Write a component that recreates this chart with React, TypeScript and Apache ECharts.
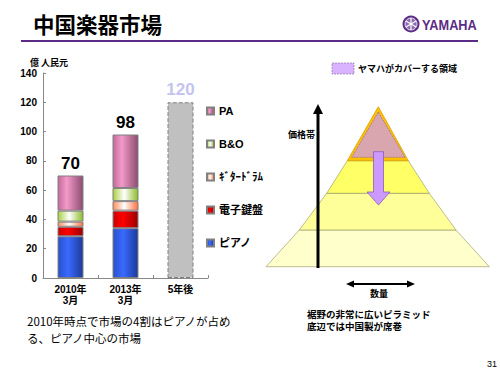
import React, { useEffect, useRef } from "react";
import * as echarts from "echarts";

const categories = ["2010年\n3月", "2013年\n3月", "5年後"];
const legendNames = ["PA", "B&O", "ｷﾞﾀｰﾄﾞﾗﾑ", "電子鍵盤", "ピアノ"];
const piano = [28.5, 34, "-"];
const keyboard = [6.5, 12, "-"];
const guitar = [3.5, 6.5, "-"];
const bo = [7.5, 9, "-"];
const pa = [24, 36.5, "-"];
const future = ["-", "-", 120];
const totals = [70, 98, 120];

const JP = '"Liberation Sans", "Noto Sans CJK JP", sans-serif';
const PURPLE = "#5b2c86";

function grad(edgeL: string, mid: string, edgeR: string, pos = 0.4) {
  return new echarts.graphic.LinearGradient(0, 0, 1, 0, [
    { offset: 0, color: edgeL },
    { offset: pos, color: mid },
    { offset: 1, color: edgeR },
  ]);
}

function txt(text: string, x: number, y: number, font: string, fill = "#000", align = "left") {
  return {
    type: "text",
    style: { text, x, y, font, fill, textAlign: align, textVerticalAlign: "middle", align, verticalAlign: "middle" },
  };
}

export default function App() {
  const ref = useRef<HTMLDivElement>(null);
  useEffect(() => {
    const chart = echarts.init(ref.current!, null, { renderer: "svg" });
    const border = { borderColor: "#808080", borderWidth: 1 };
    const mk = (name: string, data: any[], color: any, extra: any = {}) => ({
      name,
      type: "bar",
      stack: "m",
      barWidth: 26,
      data,
      itemStyle: { color, ...border },
      ...extra,
    });
    const pyrStroke = { stroke: "#a0a070", lineWidth: 0.7 };
    const option: any = {
      animation: false,
      backgroundColor: "#fff",
      grid: { left: 43, right: 292, top: 73, bottom: 97 },
      xAxis: {
        type: "category",
        data: categories,
        axisLine: { lineStyle: { color: "#888" } },
        axisTick: { show: true, inside: true, length: 3, lineStyle: { color: "#888" } },
        axisLabel: { color: "#000", fontWeight: "bold", fontSize: 10, fontFamily: JP, lineHeight: 11, margin: 6 },
      },
      yAxis: {
        type: "value",
        min: 0,
        max: 140,
        interval: 20,
        axisLine: { show: true, lineStyle: { color: "#888" } },
        axisTick: { show: true, inside: true, length: 3, lineStyle: { color: "#888" } },
        splitLine: { show: false },
        axisLabel: { color: "#000", fontWeight: "bold", fontSize: 10, fontFamily: JP, margin: 6 },
      },
      legend: {
        orient: "vertical",
        left: 201,
        top: 99,
        itemWidth: 7,
        itemHeight: 7,
        itemGap: 19,
        icon: "rect",
        data: legendNames,
        textStyle: { color: "#000", fontWeight: "bold", fontSize: 11, fontFamily: JP, lineHeight: 14 },
      },
      series: [
        mk("ピアノ", piano, grad("#2850c8", "#3a6aff", "#1c3a9a")),
        mk("電子鍵盤", keyboard, grad("#cc0000", "#ff0000", "#990000")),
        mk("ｷﾞﾀｰﾄﾞﾗﾑ", guitar, grad("#ff8c5a", "#ffffff", "#ff7040", 0.45)),
        mk("B&O", bo, grad("#a8d040", "#ffffff", "#8cbc28", 0.45)),
        mk("PA", pa, grad("#c06a9a", "#f49ac8", "#8c4c72", 0.35), {
          label: {
            show: true,
            position: "top",
            distance: 4,
            formatter: (p: any) => String(totals[p.dataIndex]),
            color: "#000",
            fontWeight: "bold",
            fontSize: 17,
            fontFamily: JP,
          },
        }),
        {
          name: "5年後",
          type: "bar",
          stack: "m",
          barWidth: 26,
          data: future,
          itemStyle: { color: "#c0c0c0", borderColor: "#808080", borderWidth: 1, borderType: "dashed" },
          label: {
            show: true,
            position: "top",
            distance: 4,
            formatter: (p: any) => String(totals[p.dataIndex]),
            color: "#c4c4f0",
            fontWeight: "bold",
            fontSize: 17,
            fontFamily: JP,
          },
        },
      ],
      graphic: [
        txt("中国楽器市場", 33, 23, 'bold 21.5px "Noto Sans CJK JP"'),
        { type: "circle", shape: { cx: 411, cy: 24, r: 8.5 }, style: { fill: PURPLE } },
        { type: "circle", shape: { cx: 411, cy: 24, r: 6 }, style: { fill: "#8d6cb0", stroke: "#fff", lineWidth: 0.8 } },
        { type: "line", shape: { x1: 411, y1: 18, x2: 411, y2: 30 }, style: { stroke: "#fff", lineWidth: 1.2 } },
        { type: "line", shape: { x1: 405.8, y1: 21, x2: 416.2, y2: 27 }, style: { stroke: "#fff", lineWidth: 1.2 } },
        { type: "line", shape: { x1: 405.8, y1: 27, x2: 416.2, y2: 21 }, style: { stroke: "#fff", lineWidth: 1.2 } },
        {
          type: "text",
          x: 422,
          y: 24.5,
          scaleX: 0.85,
          style: { text: "YAMAHA", x: 0, y: 0, font: 'bold 15px "Liberation Sans"', fill: PURPLE, textVerticalAlign: "middle", verticalAlign: "middle" },
        },
        { type: "rect", shape: { x: 21, y: 40, width: 457, height: 2 }, style: { fill: PURPLE } },
        txt("億 人民元", 30, 62, 'bold 9px "Noto Sans CJK JP"'),
        // pyramid
        { type: "polygon", shape: { points: [[299.3, 230], [456, 230], [489.3, 266.7], [266, 266.7]] }, style: { fill: "#ffffcc", ...pyrStroke } },
        { type: "polygon", shape: { points: [[326.7, 193.3], [429.3, 193.3], [456, 230], [299.3, 230]] }, style: { fill: "#ffff99", ...pyrStroke } },
        { type: "polygon", shape: { points: [[347.3, 160.7], [408.3, 160.7], [429.3, 193.3], [326.7, 193.3]] }, style: { fill: "#ffff66", ...pyrStroke } },
        { type: "polygon", shape: { points: [[378.3, 106.7], [408.3, 160.7], [347.3, 160.7]] }, style: { fill: "#ffc000", stroke: "#d9a000", lineWidth: 0.8 } },
        { type: "polygon", shape: { points: [[378.3, 112], [405, 157.3], [351.7, 157.3]] }, style: { fill: "#d9a6b0", stroke: "#8c6aa0", lineWidth: 0.7, lineDash: [2, 1] } },
        {
          type: "polygon",
          shape: { points: [[373.5, 151.7], [383.5, 151.7], [383.5, 192], [390, 192], [378.5, 205], [367, 192], [373.5, 192]] },
          style: { fill: "#cc99ff", stroke: "#8c5cb8", lineWidth: 0.8 },
        },
        { type: "line", shape: { x1: 318, y1: 268, x2: 318, y2: 112 }, style: { stroke: "#000", lineWidth: 3 } },
        { type: "polygon", shape: { points: [[313, 114], [323, 114], [318, 104]] }, style: { fill: "#000" } },
        txt("価格帯", 315, 134, 'bold 9px "Noto Sans CJK JP"', "#000", "right"),
        { type: "line", shape: { x1: 352, y1: 284, x2: 409, y2: 284 }, style: { stroke: "#000", lineWidth: 2 } },
        { type: "polygon", shape: { points: [[346, 284], [354, 280.5], [354, 287.5]] }, style: { fill: "#000" } },
        { type: "polygon", shape: { points: [[415, 284], [407, 280.5], [407, 287.5]] }, style: { fill: "#000" } },
        txt("数量", 379, 293, 'bold 9px "Noto Sans CJK JP"', "#000", "center"),
        { type: "rect", shape: { x: 332, y: 63, width: 22, height: 11 }, style: { fill: "#d9b3ff", stroke: "#8c7aa0", lineWidth: 0.7, lineDash: [2, 1] } },
        txt("ヤマハがカバーする領域", 358, 68.5, 'bold 9px "Noto Sans CJK JP"'),
        // bottom texts
        txt("2010年時点で市場の4割はピアノが占め", 27, 321, '11.5px "Noto Sans CJK JP"'),
        txt("る、ピアノ中心の市場", 27, 337.5, '11.5px "Noto Sans CJK JP"'),
        txt("裾野の非常に広いピラミッド", 307, 313.5, 'bold 9.5px "Noto Sans CJK JP"'),
        txt("底辺では中国製が席巻", 307, 326, 'bold 9.5px "Noto Sans CJK JP"'),
        txt("31", 497, 364, '9px "Liberation Sans"', "#000", "right"),
      ],
    };
    chart.setOption(option);
    return () => chart.dispose();
  }, []);
  return <div ref={ref} style={{ position: "absolute", left: 0, top: 0, width: 500, height: 375, background: "#fff" }} />;
}
